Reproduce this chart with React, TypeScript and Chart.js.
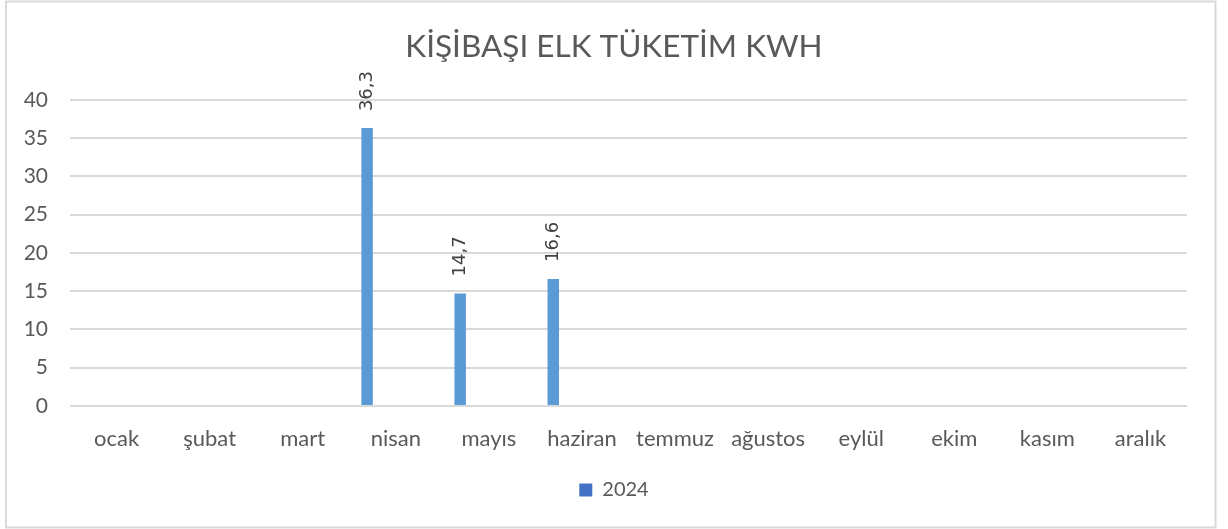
import React, { useEffect, useRef } from "react";
import { Chart, registerables } from "chart.js";

Chart.register(...registerables);

const TITLE = "KİŞİBAŞI ELK TÜKETİM KWH";
const MONTHS = ["ocak", "şubat", "mart", "nisan", "mayıs", "haziran", "temmuz", "ağustos", "eylül", "ekim", "kasım", "aralık"];
const SERIES_NAME = "2024";
const VALUES_2024: (number | null)[] = [null, null, null, 36.3, 14.7, 16.6, null, null, null, null, null, null];
const Y_TICKS = [0, 5, 10, 15, 20, 25, 30, 35, 40];
// Empty placeholder series (no values) that occupy the other group slots, as in the original workbook
const EMPTY_SLOTS = 5;

const BAR_COLOR = "#5B9BD5";
const LEGEND_COLOR = "#4472C4";
const TEXT_COLOR = "#595959";
const GRID_COLOR = "#D9D9D9";
const FONT = "Lato, 'Open Sans', sans-serif";

const borderPlugin = {
  id: "frameBorder",
  beforeDraw(chart: any) {
    const ctx = chart.ctx;
    ctx.save();
    ctx.fillStyle = "#ffffff";
    ctx.fillRect(0, 0, chart.width, chart.height);
    ctx.strokeStyle = GRID_COLOR;
    ctx.lineWidth = 2;
    ctx.strokeRect(6, 1.5, 1209.5, 526);
    ctx.restore();
  },
};

const labelPlugin = {
  id: "barValueLabels",
  afterDatasetsDraw(chart: any) {
    const ctx = chart.ctx;
    const meta = chart.getDatasetMeta(0);
    const data = chart.data.datasets[0].data as (number | null)[];
    ctx.save();
    ctx.fillStyle = "#404040";
    ctx.font = "18px 'DejaVu Sans', sans-serif";
    ctx.textAlign = "left";
    ctx.textBaseline = "middle";
    meta.data.forEach((bar: any, i: number) => {
      const v = data[i];
      if (v === null || v === undefined) return;
      ctx.save();
      ctx.translate(bar.x, bar.y - 17);
      ctx.rotate(-Math.PI / 2);
      ctx.fillText(v.toFixed(1).replace(".", ","), 0, 0);
      ctx.restore();
    });
    ctx.restore();
  },
};

export default function App() {
  const ref = useRef<HTMLCanvasElement | null>(null);

  useEffect(() => {
    if (!ref.current) return;
    const datasets: any[] = [
      {
        label: SERIES_NAME,
        data: VALUES_2024,
        backgroundColor: BAR_COLOR,
        borderWidth: 0,
      },
    ];
    for (let k = 0; k < EMPTY_SLOTS; k++) {
      datasets.push({ label: "", data: MONTHS.map(() => null), backgroundColor: BAR_COLOR });
    }
    const chart = new Chart(ref.current, {
      type: "bar",
      data: { labels: MONTHS, datasets },
      options: {
        animation: false,
        responsive: false,
        devicePixelRatio: 1,
        datasets: { bar: { categoryPercentage: 0.74, barPercentage: 1 } },
        layout: { padding: { left: 0, right: 0, top: 0, bottom: 19 } },
        plugins: {
          title: {
            display: true,
            text: TITLE,
            color: TEXT_COLOR,
            font: { family: FONT, size: 31.5, weight: "normal" },
            padding: { top: 28, bottom: 34 },
          },
          legend: {
            display: true,
            position: "bottom",
            labels: {
              color: TEXT_COLOR,
              font: { family: FONT, size: 20 },
              boxWidth: 13,
              boxHeight: 13,
              padding: 10,
              filter: (item: any) => item.text === SERIES_NAME,
              generateLabels: (chart: any) => {
                const items = Chart.defaults.plugins.legend.labels.generateLabels(chart);
                return items.map((it: any) => ({ ...it, fillStyle: LEGEND_COLOR, strokeStyle: LEGEND_COLOR, lineWidth: 0 }));
              },
            },
          },
          tooltip: { enabled: false },
        },
        scales: {
          x: {
            grid: { display: false },
            border: { display: false },
            ticks: { color: TEXT_COLOR, font: { family: FONT, size: 22 }, padding: 12, maxRotation: 0, autoSkip: false },
            afterFit: (scale: any) => { scale.height = 64; },
          },
          y: {
            min: 0,
            max: 40,
            afterBuildTicks: (scale: any) => { scale.ticks = Y_TICKS.map((v) => ({ value: v })); },
            grid: { color: GRID_COLOR, lineWidth: 2, drawTicks: false },
            border: { display: false },
            ticks: { color: TEXT_COLOR, font: { family: FONT, size: 21 }, padding: 22 },
            afterFit: (scale: any) => { scale.width = 70; },
          },
          yRight: {
            type: "linear",
            position: "right",
            min: 0,
            max: 40,
            grid: { display: false, drawTicks: false },
            border: { display: false },
            ticks: { display: false },
            afterFit: (scale: any) => { scale.width = 41; },
          },
        },
      },
      plugins: [borderPlugin, labelPlugin],
    });
    return () => chart.destroy();
  }, []);

  return (
    <div style={{ position: "fixed", left: 0, top: 0, width: 1228, height: 529 }}>
      <canvas ref={ref} width={1228} height={529} style={{ display: "block" }} />
    </div>
  );
}
